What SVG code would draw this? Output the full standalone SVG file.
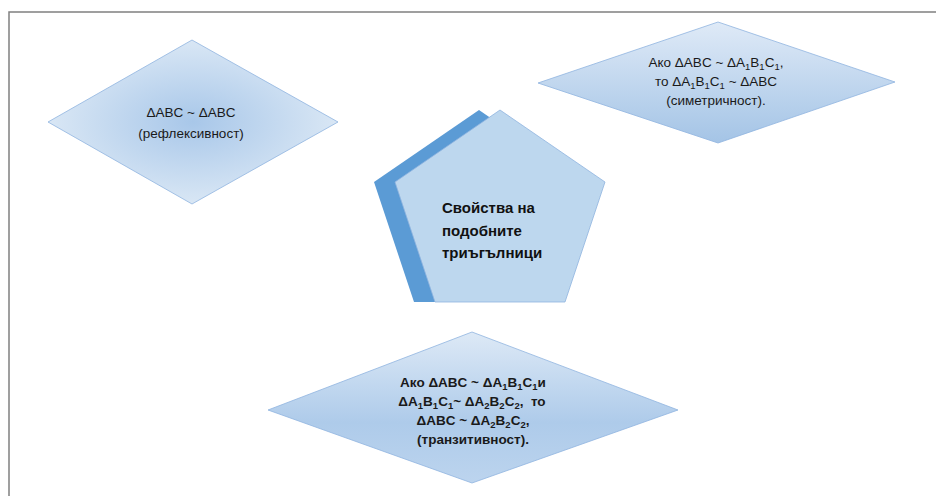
<svg xmlns="http://www.w3.org/2000/svg" width="936" height="496" viewBox="0 0 936 496">
<style>
.t{font-family:"Liberation Sans","Noto Sans",Arial,sans-serif;font-size:13.5px;fill:#1a1a1a;text-anchor:middle}
.b{font-weight:bold}
.p{font-family:"Liberation Sans","Noto Sans",Arial,sans-serif;font-size:15px;font-weight:bold;fill:#111}
.d{stroke:#8fb4e0;stroke-width:0.8}
.s{font-size:9.5px}
</style>
<defs>
<radialGradient id="g1" cx="0.5" cy="0.5" r="0.55">
<stop offset="0" stop-color="#a8c7e9"/>
<stop offset="1" stop-color="#deeaf6"/>
</radialGradient>
<linearGradient id="g2" x1="0" y1="0" x2="0" y2="1">
<stop offset="0" stop-color="#dfeaf7"/>
<stop offset="1" stop-color="#a4c4e6"/>
</linearGradient>
<linearGradient id="g3" x1="0" y1="0" x2="0" y2="1">
<stop offset="0" stop-color="#dde9f6"/>
<stop offset="0.6" stop-color="#aecbea"/>
<stop offset="1" stop-color="#bcd4ee"/>
</linearGradient>
</defs>
<rect x="9" y="12" width="940" height="500" fill="#fff" stroke="#808080" stroke-width="1.5"/>
<g id="connectors"></g>
<g id="reflexive">
<polygon class="d" points="48,122 192,40 338,122 192,204" fill="url(#g1)"/>
<text class="t" x="191" y="117">ΔABC ~ ΔABC</text>
<text class="t" x="191" y="138">(рефлексивност)</text>
</g>
<g id="symmetric">
<polygon class="d" points="538,83 718,22 895,82 718,143" fill="url(#g2)"/>
<text class="t" x="716" y="67">Ако ΔABC ~ ΔA<tspan class="s" dy="3">1</tspan><tspan dy="-3">B</tspan><tspan class="s" dy="3">1</tspan><tspan dy="-3">C</tspan><tspan class="s" dy="3">1</tspan><tspan dy="-3">,</tspan></text>
<text class="t" x="716" y="86">то ΔA<tspan class="s" dy="3">1</tspan><tspan dy="-3">B</tspan><tspan class="s" dy="3">1</tspan><tspan dy="-3">C</tspan><tspan class="s" dy="3">1</tspan><tspan dy="-3"> ~ ΔABC</tspan></text>
<text class="t" x="716" y="105">(симетричност).</text>
</g>
<g id="center">
<polygon points="479,110 374,182 414,302 544,302 584,182" fill="#5b9bd5"/>
<polygon points="500,110 395,182 435,302 565,302 605,182" fill="#bdd7ee" stroke="#8fb4e0" stroke-width="0.8"/>
<text class="p" x="442" y="213">Свойства на</text>
<text class="p" x="442" y="236">подобните</text>
<text class="p" x="442" y="258">триъгълници</text>
</g>
<g id="transitive">
<polygon class="d" points="268,410 472,332 678,410 472,483" fill="url(#g3)"/>
<text class="t b" x="473" y="387">Ако ΔABC ~ ΔA<tspan class="s" dy="3">1</tspan><tspan dy="-3">B</tspan><tspan class="s" dy="3">1</tspan><tspan dy="-3">C</tspan><tspan class="s" dy="3">1</tspan><tspan dy="-3">и</tspan></text>
<text class="t b" x="472" y="406" style="white-space:pre">ΔA<tspan class="s" dy="3">1</tspan><tspan dy="-3">B</tspan><tspan class="s" dy="3">1</tspan><tspan dy="-3">C</tspan><tspan class="s" dy="3">1</tspan><tspan dy="-3">~ ΔA</tspan><tspan class="s" dy="3">2</tspan><tspan dy="-3">B</tspan><tspan class="s" dy="3">2</tspan><tspan dy="-3">C</tspan><tspan class="s" dy="3">2</tspan><tspan dy="-3">,  то</tspan></text>
<text class="t b" x="473" y="425">ΔABC ~ ΔA<tspan class="s" dy="3">2</tspan><tspan dy="-3">B</tspan><tspan class="s" dy="3">2</tspan><tspan dy="-3">C</tspan><tspan class="s" dy="3">2</tspan><tspan dy="-3">,</tspan></text>
<text class="t b" x="473" y="444">(транзитивност).</text>
</g>
</svg>
